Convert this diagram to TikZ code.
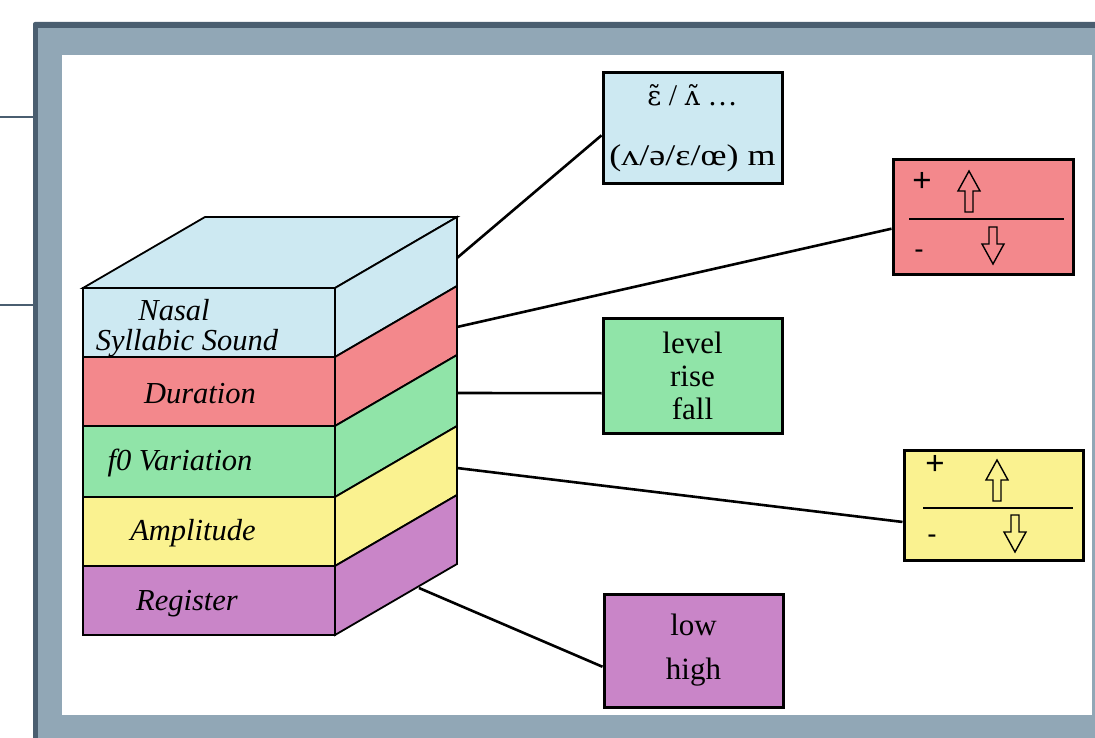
\documentclass[tikz,border=0pt]{standalone}
\usepackage{fontspec}
\setmainfont{Liberation Serif}
\setsansfont{Liberation Sans}
\newfontfamily\ipafont{DejaVu Serif}
\usetikzlibrary{calc}
\definecolor{cblue}{HTML}{CDE9F2}
\definecolor{cred}{HTML}{F3888C}
\definecolor{cgreen}{HTML}{90E4A8}
\definecolor{cyellow}{HTML}{FAF290}
\definecolor{cpurple}{HTML}{C985C8}
\definecolor{framegrey}{HTML}{91A7B6}
\definecolor{framedark}{HTML}{4A5E70}
\tikzset{
  cubeline/.style={draw=black, line width=1.8pt, line join=miter},
  layerlabel/.style={font=\fontsize{30.5}{32}\selectfont\itshape, inner sep=0pt},
  box/.style={draw=black, line width=3pt, inner sep=0pt, minimum width=179pt, align=center},
  conn/.style={draw=black, line width=2.6pt},
  plustxt/.style={font=\sffamily\fontsize{33}{33}\selectfont, inner sep=0pt},
  minustxt/.style={font=\sffamily\fontsize{28}{28}\selectfont, inner sep=0pt},
  divline/.style={draw=black, line width=1.5pt},
  uparr/.pic={\draw[line width=1.4pt, line join=miter] (0,0) -- (11,20) -- (4,20) -- (4,41) -- (-4,41) -- (-4,20) -- (-11,20) -- cycle;},
  downarr/.pic={\draw[line width=1.4pt, line join=miter] (0,37) -- (11,17) -- (4,17) -- (4,0) -- (-4,0) -- (-4,17) -- (-11,17) -- cycle;}
}
\begin{document}
\begin{tikzpicture}[x=1pt,y=-1pt]
\useasboundingbox (0,0) rectangle (1095,738);
\fill[white] (0,0) rectangle (1095,738);
% slide frame
\fill[framedark, rounded corners=2pt] (33,22) rectangle (1120,760);
\fill[framegrey] (38,28) rectangle (1095,738);
\fill[white] (62,55) rectangle (1092,715);
\draw[framedark, line width=1.6pt] (0,117) -- (33,117);
\draw[framedark, line width=1.6pt] (0,305) -- (33,305);
% cube: top face
\filldraw[fill=cblue, cubeline] (83,288) -- (205,217) -- (457,217) -- (335,288) -- cycle;
% layers
\foreach \c/\t/\b in {cblue/288/357, cred/357/426, cgreen/426/497, cyellow/497/566, cpurple/566/635}{
  \filldraw[fill=\c, cubeline] (83,\t) rectangle (335,\b);
  \filldraw[fill=\c, cubeline] (335,\t) -- (457,\t-71) -- (457,\b-71) -- (335,\b) -- cycle;
}
\draw[black, line width=2.6pt] (83,635) -- (335,635);
% layer labels
\node[layerlabel] (lN1) at (174,310) {Nasal};
\node[layerlabel] (lN2) at (187,343) {Syllabic Sound};
\node[layerlabel] (lD) at (200,394) {Duration};
\node[layerlabel] (lF) at (180,463) {f0 Variation};
\node[layerlabel] (lA) at (193,533) {Amplitude};
\node[layerlabel] (lR) at (187,604) {Register};
% connector start points
\coordinate (cN) at (457,258);
\coordinate (cD) at (457,327);
\coordinate (cF) at (457,393);
\coordinate (cA) at (457,468);
\coordinate (cR) at (419,588);
% boxes
\node[box, fill=cblue, minimum height=111pt, font=\fontsize{30}{60}\selectfont] (bN) at (692.5,128.5)
  {{\ipafont\fontsize{27}{27}\selectfont ɛ̃} / {\ipafont\fontsize{27}{27}\selectfont ʌ̃} …\\\scalebox{1.2}[1]{(ʌ/ə/ɛ/œ) m}};
\node[box, fill=cred, minimum width=180pt, minimum height=114pt] (bD) at (983,217) {};
\node[box, fill=cgreen, minimum height=115pt, font=\fontsize{31}{33}\selectfont] (bF) at (692.5,375.5) {level\\rise\\fall};
\node[box, fill=cyellow, minimum height=110pt] (bA) at (993.5,505) {};
\node[box, fill=cpurple, minimum height=113pt, font=\fontsize{31}{44}\selectfont] (bR) at (693.5,650.5) {low\\high};
% red box content
\node[plustxt] (pD) at (922,182) {+};
\node[minustxt] (mD) at (919,254) {-};
\draw[divline] (909,219) -- (1064,219);
\pic at (969,171) {uparr};
\pic at (993,227) {downarr};
% yellow box content
\node[plustxt] (pA) at (935,465) {+};
\node[minustxt] (mA) at (932,539) {-};
\draw[divline] (923,508) -- (1073,508);
\pic at (997,460) {uparr};
\pic at (1015,515) {downarr};
% connectors
\draw[conn] (cN) -- ($(bN.north west)!0.56!(bN.south west)$);
\draw[conn] (cD) -- ($(bD.north west)!0.60!(bD.south west)$);
\draw[conn] (cF) -- ($(bF.north west)!0.65!(bF.south west)$);
\draw[conn] (cA) -- ($(bA.north west)!0.65!(bA.south west)$);
\draw[conn] (cR) -- ($(bR.north west)!0.64!(bR.south west)$);
\end{tikzpicture}
\end{document}
